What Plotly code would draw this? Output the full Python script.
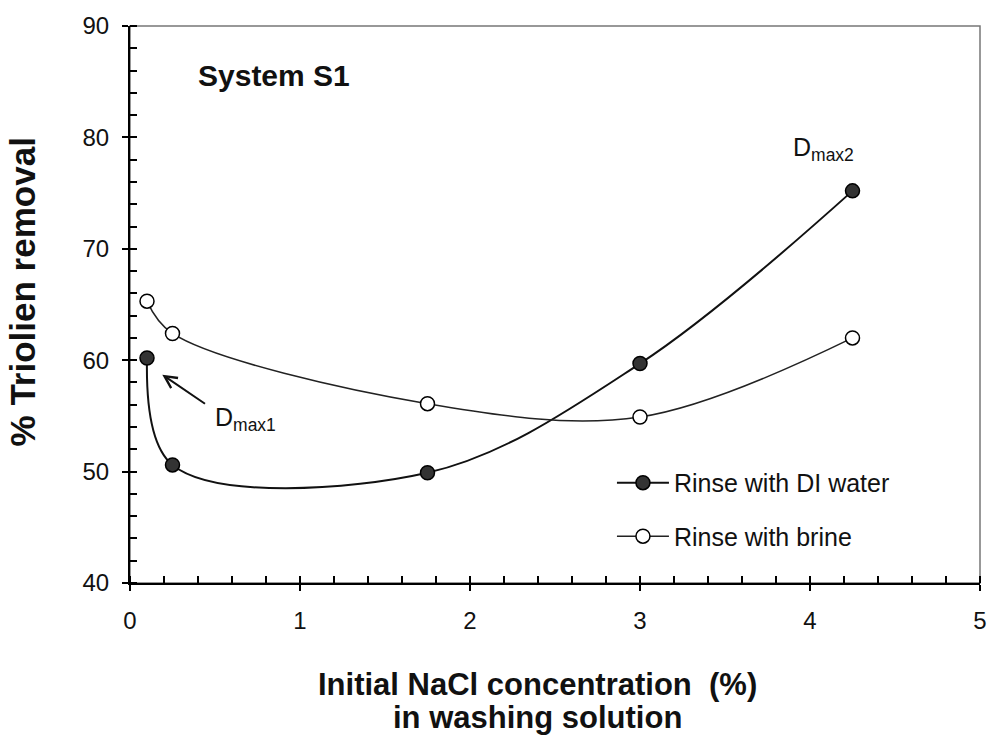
import plotly.graph_objects as go

nacl = [0.1, 0.25, 1.75, 3.0, 4.25]
di_water = [60.2, 50.6, 49.9, 59.7, 75.2]
brine = [65.3, 62.4, 56.1, 54.9, 62.0]

FONT = "Arial, Liberation Sans, sans-serif"
INK = "#111111"

fig = go.Figure()
fig.add_trace(go.Scatter(
    x=nacl, y=di_water, name="Rinse with DI water", mode="lines+markers",
    line=dict(color="#111111", width=2, shape="spline", smoothing=1),
    marker=dict(symbol="circle", size=14, color="#333333", line=dict(color="#000000", width=1.5)),
    legendgroup="a",
))
fig.add_trace(go.Scatter(
    x=nacl, y=brine, name="Rinse with brine", mode="lines+markers",
    line=dict(color="#222222", width=1.5, shape="spline", smoothing=1),
    marker=dict(symbol="circle", size=14, color="white", line=dict(color="#000000", width=1.5)),
    legendgroup="b",
))

axis_common = dict(showgrid=False, zeroline=False, linecolor="black", linewidth=2,
                   tickcolor="black", tickwidth=1.5,
                   tickfont=dict(family=FONT, size=24, color=INK))

fig.update_layout(
    width=999, height=737,
    margin=dict(l=130, r=12, t=25, b=154),
    paper_bgcolor="white", plot_bgcolor="white",
    showlegend=True,
    legend=dict(x=0.567, y=0.221, xanchor="left", yanchor="top",
                font=dict(family=FONT, size=25, color=INK),
                bgcolor="rgba(0,0,0,0)", itemwidth=52, tracegroupgap=18),
    xaxis=dict(range=[0, 5], dtick=1, tick0=0, ticks="outside", ticklen=6,
               ticklabelstandoff=9,
               minor=dict(dtick=0.2, ticks="inside", ticklen=7, tickcolor="black", tickwidth=1.5),
               **axis_common),
    yaxis=dict(range=[40, 90], dtick=10, tick0=40, ticks="outside", ticklen=6,
               ticklabelstandoff=8,
               minor=dict(dtick=2, ticks="inside", ticklen=7, tickcolor="black", tickwidth=1.5),
               **axis_common),
    xaxis2=dict(range=[0, 5], dtick=1, tick0=0, overlaying="x", anchor="y", side="bottom",
                ticks="inside", ticklen=8, tickcolor="black", tickwidth=1.5,
                showticklabels=False, showline=False, showgrid=False, zeroline=False),
    yaxis2=dict(range=[40, 90], dtick=10, tick0=40, overlaying="y", anchor="x", side="left",
                ticks="inside", ticklen=8, tickcolor="black", tickwidth=1.5,
                showticklabels=False, showline=False, showgrid=False, zeroline=False),
)

fig.add_shape(type="rect", xref="paper", yref="paper", x0=0, x1=1, y0=0, y1=1,
              line=dict(color="#777777", width=1.5), layer="below")

anns = [
    dict(x=0.39, y=85.6, xref="x", yref="y", text="<b>System S1</b>", showarrow=False,
         xanchor="left", yanchor="middle", font=dict(family=FONT, size=30, color=INK)),
    dict(x=3.89, y=79.0, xref="x", yref="y", text="D<sub>max2</sub>", showarrow=False,
         xanchor="left", yanchor="middle", font=dict(family=FONT, size=25, color=INK)),
    dict(x=0.49, y=54.7, xref="x", yref="y", text="D<sub>max1</sub>", showarrow=False,
         xanchor="left", yanchor="middle", font=dict(family=FONT, size=25, color=INK)),
    dict(x=0.19, y=58.7, xref="x", yref="y", ax=0.45, ay=56.0, axref="x", ayref="y",
         text="", showarrow=True, arrowhead=5, arrowsize=1.2, arrowwidth=2, arrowcolor="#111111"),
    dict(x=0.4796, y=-0.1828, xref="paper", yref="paper", text="<b>Initial NaCl concentration  (%)</b>",
         showarrow=False, xanchor="center", yanchor="middle", font=dict(family=FONT, size=31, color=INK)),
    dict(x=0.4796, y=-0.2419, xref="paper", yref="paper", text="<b>in washing solution</b>",
         showarrow=False, xanchor="center", yanchor="middle", font=dict(family=FONT, size=31, color=INK)),
    dict(x=-0.126, y=0.5233, xref="paper", yref="paper", text="<b>% Triolien removal</b>",
         showarrow=False, textangle=-90, xanchor="center", yanchor="middle",
         font=dict(family=FONT, size=35, color=INK)),
]
fig.update_layout(annotations=anns)

fig.write_html("out.html", config={"displayModeBar": False},
               post_script="document.body.style.margin='0';")
